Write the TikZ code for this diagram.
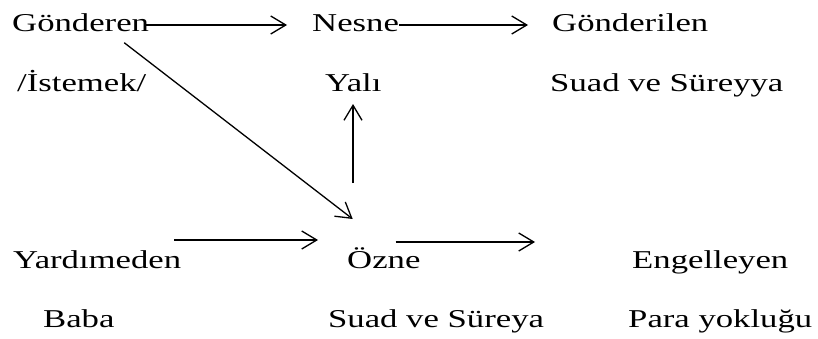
\documentclass[tikz,border=0pt]{standalone}
\usepackage{fontspec}
\setmainfont{Liberation Serif}[FakeStretch=1.35]
\usetikzlibrary{arrows.meta}
\begin{document}
\begin{tikzpicture}[x=1pt,y=1pt,
  lbl/.style={inner sep=0pt,anchor=base west,font=\fontsize{25.7}{30}\selectfont},
  arr/.style={line width=1.3pt,-{Straight Barb[length=15pt,width=18pt,line width=1.3pt]}}]
\useasboundingbox (0,0) rectangle (818,338);
% row 1
\node[lbl] (gon)  at (12,306)  {Gönderen};
\node[lbl] (nes)  at (312,306) {Nesne};
\node[lbl] (gonl) at (552,306) {Gönderilen};
% row 2
\node[lbl] (ist)  at (17,247)  {/İstemek/};
\node[lbl] (yali) at (325,247) {Yalı};
\node[lbl] (sus)  at (550,247) {Suad ve Süreyya};
% row 3
\node[lbl] (yar)  at (13,70)   {Yardımeden};
\node[lbl] (ozn)  at (347,70)  {Özne};
\node[lbl] (eng)  at (632,70)  {Engelleyen};
% row 4
\node[lbl] (bab)  at (43,11)   {Baba};
\node[lbl] (sus2) at (328,11)  {Suad ve Süreya};
\node[lbl] (para) at (628,11)  {Para yokluğu};
\coordinate (free) at (535,96);
% connectors
\draw[arr] ([shift={(-5,7)}]gon.base east) -- ([shift={(-25,7)}]nes.base west);
\draw[arr] ([shift={(0,7)}]nes.base east) -- ([shift={(-24,7)}]gonl.base west);
\draw[arr] ([shift={(-25,-10.7)}]gon.base east) -- ([shift={(5.7,49)}]ozn.base west);
\draw[arr] ([shift={(6,85)}]ozn.base west) -- ([shift={(28,-13)}]yali.base west);
\draw[arr] ([shift={(-7,28)}]yar.base east) -- ([shift={(-29,28)}]ozn.base west);
\draw[arr] ([shift={(-25,26)}]ozn.base east) -- (free);
\end{tikzpicture}
\end{document}
